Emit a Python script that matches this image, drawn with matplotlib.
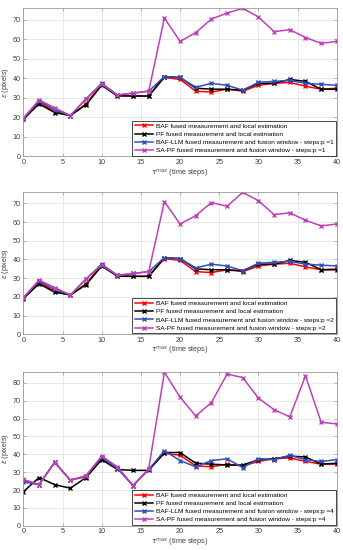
import numpy as np
import matplotlib
matplotlib.use('Agg')
import matplotlib.pyplot as plt

plt.rcParams['font.family'] = ['Liberation Sans', 'DejaVu Sans']
plt.rcParams['mathtext.fontset'] = 'dejavusans'

# time steps
steps = np.arange(0, 41, 2)

# panel p=1
baf_1 = [19.5, 28, 23, 21, 27, 37, 31.5, 31, 31, 40.5, 39.5, 33.5, 33, 34.5, 33.5, 36.5, 37.5, 38, 36, 34.5, 35]
pf_1 = [19, 27, 22.5, 21, 26.5, 36.5, 31, 31, 31, 41, 40.5, 35, 34.5, 34.5, 34, 37.5, 37.5, 39.5, 38.5, 34.5, 34.5]
llm_1 = [19.5, 28.5, 24, 21, 29.5, 37.5, 31.5, 32.5, 33.5, 41, 40.5, 35.5, 37.5, 36.5, 34, 38, 38.5, 39, 37.5, 37, 36.5]
sapf_1 = [19.5, 29, 25, 21, 29.5, 37, 31.5, 32.5, 33.5, 71, 59, 63.5, 70.5, 73.5, 76, 71.5, 64, 65, 61, 58, 59]

# panel p=2
baf_2 = baf_1
pf_2 = pf_1
llm_2 = llm_1
sapf_2 = [19.5, 29, 25, 21, 29.5, 37, 31.5, 32.5, 33.5, 71, 59, 63.5, 70.5, 68.5, 76, 71.5, 64, 65, 61, 58, 59]

# panel p=4
baf_4 = [25.5, 23, 35.5, 25.5, 27.5, 38, 32.5, 22.5, 31.5, 40.5, 39.5, 33.5, 33, 34.5, 33.5, 36, 37.5, 38, 36, 34.5, 34.5]
pf_4 = [19, 27, 23, 21, 27, 37, 31.5, 31, 31, 41, 41, 35, 34.5, 34, 34, 37, 37.5, 39, 38.5, 34.5, 35]
llm_4 = [24.5, 23, 35.5, 25.5, 28, 38.5, 32, 22.5, 31.5, 42, 36.5, 33, 36.5, 37.5, 32.5, 37.5, 37, 39.5, 37, 36, 37]
sapf_4 = [26, 23, 35.5, 25.5, 28, 39, 33, 22.5, 32, 86, 72, 61.5, 69, 85, 83, 71.5, 65, 61, 84, 58, 57]

panels = [
    (1, baf_1, pf_1, llm_1, sapf_1, 76, [0.068, 0.7155, 0.914, 0.2695]),
    (2, baf_2, pf_2, llm_2, sapf_2, 76, [0.068, 0.3924, 0.914, 0.258]),
    (4, baf_4, pf_4, llm_4, sapf_4, 86, [0.068, 0.0442, 0.914, 0.279]),
]

colors = ['#ff0000', '#000000', '#2f4fbf', '#c040b8']
txt = '#404040'

fig = plt.figure(figsize=(3.43, 5.5), dpi=100)

for p, baf, pf, llm, sapf, ytop, pos in panels:
    ax = fig.add_axes(pos)
    labels = ['BAF fused measurement and local estimation',
              'PF fused measurement and local estimation',
              'BAF-LLM fused measurement and fusion window - steps:p =%d' % p,
              'SA-PF fused measurement and fusion window - steps:p =%d' % p]
    for ys, c, lab in zip([baf, pf, llm, sapf], colors, labels):
        ax.plot(steps, ys, color=c, marker='x', markersize=3.5, linewidth=1.1,
                markeredgewidth=1.0, label=lab)
    ax.set_xlim(0, 40)
    ax.set_ylim(0, ytop)
    ax.set_xticks(range(0, 41, 5))
    ax.set_yticks(range(0, ytop + 1, 10))
    ax.grid(True, color='#e0e0e0', linewidth=0.5)
    ax.set_axisbelow(True)
    for s in ax.spines.values():
        s.set_color('#999999')
        s.set_linewidth(0.6)
    ax.tick_params(direction='in', length=2, width=0.5, top=True, right=True,
                   colors='#999999', labelcolor=txt, labelsize=5.2, pad=2)
    ax.set_ylabel(r'$\epsilon$ (pixels)', fontsize=5.2, color=txt, labelpad=1)
    ax.set_xlabel(r'$\tau^{max}$ (time steps)', fontsize=5.2, color=txt, labelpad=1)
    leg = ax.legend(loc='lower right', fontsize=4.65, handlelength=2.8,
                    borderaxespad=0.15, labelspacing=0.42, borderpad=0.35,
                    handletextpad=0.5, fancybox=False, framealpha=1)
    leg.get_frame().set_edgecolor('#000000')
    leg.get_frame().set_linewidth(0.5)

fig.savefig('out.png', dpi=100)
